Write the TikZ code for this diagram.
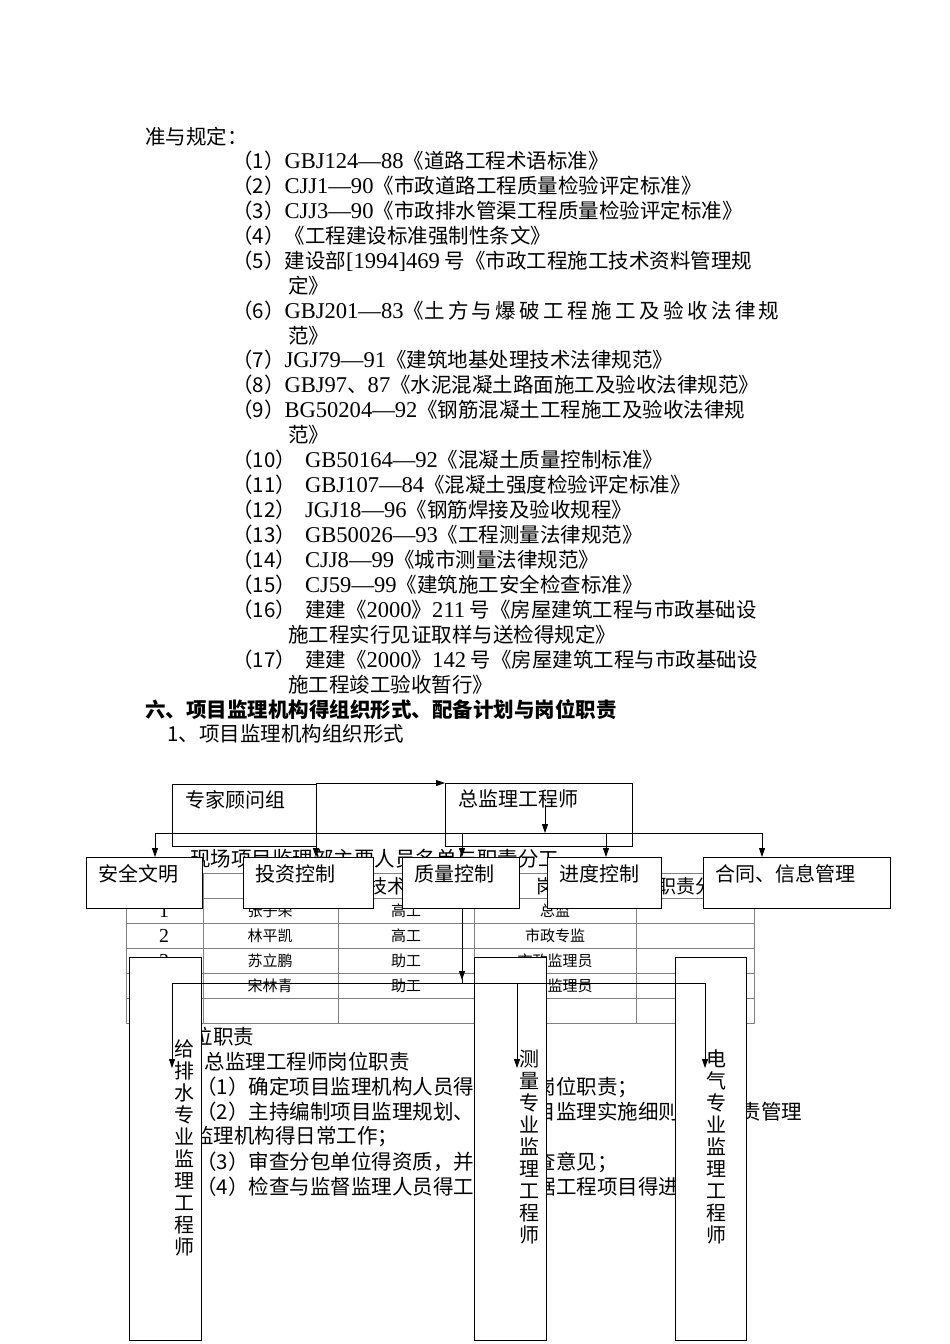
\documentclass[tikz,border=0pt]{standalone}
\usepackage{fontspec}
\setmainfont{Noto Sans CJK SC}
\newfontfamily\lat[Scale=1.1]{Liberation Serif}
\usetikzlibrary{arrows.meta}
\begin{document}
\begin{tikzpicture}[x=1pt,y=-1pt,
  txt/.style={anchor=west,inner sep=0pt,font=\fontsize{20.5}{20.5}\selectfont},
  cell/.style={inner sep=0pt,font=\fontsize{15}{15}\selectfont},
  bx/.style={draw,line width=0.8pt,fill=white},
  lbl/.style={anchor=north west,inner sep=0pt,font=\fontsize{20}{20}\selectfont},
  vt/.style={inner sep=0pt,align=center,font=\fontsize{20}{22}\selectfont,anchor=north},
  conn/.style={line width=0.8pt},
  arr/.style={line width=0.8pt,-{Triangle[length=9pt,width=6pt]}}]
\useasboundingbox (0,0) rectangle (950,1344);
\fill[white] (0,0) rectangle (950,1344);
% top text
\node[txt] (h0) at (145,137) {准与规定：};
\foreach \y/\t [count=\i] in {161/（1）{\lat GBJ124—88}《道路工程术语标准》,
 186/（2）{\lat CJJ1—90}《市政道路工程质量检验评定标准》,
 211/（3）{\lat CJJ3—90}《市政排水管渠工程质量检验评定标准》,
 236/（4）《工程建设标准强制性条文》,
 261/（5）建设部{\lat[1994]469} 号《市政工程施工技术资料管理规,
 311/（6）{\lat GBJ201—83}《土\,方\,与\,爆\,破\,工\,程\,施\,工\,及\,验\,收\,法\,律\,规,
 360/（7）{\lat JGJ79—91}《建筑地基处理技术法律规范》,
 385/（8）{\lat GBJ97}、{\lat 87}《水泥混凝土路面施工及验收法律规范》,
 410/（9）{\lat BG50204—92}《钢筋混凝土工程施工及验收法律规,
 460/（10）\ \ {\lat GB50164—92}《混凝土质量控制标准》,
 485/（11）\ \ {\lat GBJ107—84}《混凝土强度检验评定标准》,
 510/（12）\ \ {\lat JGJ18—96}《钢筋焊接及验收规程》,
 535/（13）\ \ {\lat GB50026—93}《工程测量法律规范》,
 560/（14）\ \ {\lat CJJ8—99}《城市测量法律规范》,
 585/（15）\ \ {\lat CJ59—99}《建筑施工安全检查标准》,
 610/（16）\ \ 建建《{\lat 2000}》{\lat 211} 号《房屋建筑工程与市政基础设,
 660/（17）\ \ 建建《{\lat 2000}》{\lat 142} 号《房屋建筑工程与市政基础设}
  {\node[txt] (it\i) at (232,\y) {\t};}
\foreach \y/\t [count=\i] in {286/定》,336/范》,435/范》,635/施工程实行见证取样与送检得规定》,685/施工程竣工验收暂行》}
  {\node[txt] (ct\i) at (288,\y) {\t};}
\node[txt,font=\bfseries\fontsize{20.5}{20.5}\selectfont] (h6) at (145,710) {六、项目监理机构得组织形式、配备计划与岗位职责};
\node[txt] (h61) at (167,734) {1、项目监理机构组织形式};
% background table
\node[txt] (ttl) at (190,859) {现场项目监理部主要人员名单与职责分工};
\draw[line width=0.5pt,gray] (126,873) rectangle (754,1023);
\foreach \y in {898,923,948,973,998} \draw[line width=0.5pt,gray] (126,\y)--(754,\y);
\foreach \x in {203,338,474,636} \draw[line width=0.5pt,gray] (\x,873)--(\x,1023);
\node[cell,font=\fontsize{19}{19}\selectfont] (c0) at (164,886) {序号};
\node[cell,font=\fontsize{19}{19}\selectfont] (c1) at (270,886) {姓名};
\node[cell,font=\fontsize{19}{19}\selectfont] (c2) at (406,886) {技术职称};
\node[cell,font=\fontsize{19}{19}\selectfont] (c3) at (555,886) {岗位};
\node[cell,font=\fontsize{19}{19}\selectfont] (c4) at (695,886) {职责分工};
\foreach \y/\a/\b/\c/\d in {911/1/张子荣/高工/总监,936/2/林平凯/高工/市政专监,961/3/苏立鹏/助工/市政监理员,986/4/宋林青/助工/测量监理员}
 {\node[cell,font=\lat\fontsize{18}{18}\selectfont] at (164,\y) {\a};
  \node[cell] at (270,\y) {\b}; \node[cell] at (406,\y) {\c}; \node[cell] at (555,\y) {\d};}
\foreach \y/\x/\t [count=\i] in {1037/140/2、岗位职责,1062/152/（1）总监理工程师岗位职责,1087/196/（1）确定项目监理机构人员得分工与岗位职责；,1112/196/（2）主持编制项目监理规划、审批项目监理实施细则，并负责管理,1137/152/项目监理机构得日常工作；,1162/196/（3）审查分包单位得资质，并提出审查意见；,1187/196/（4）检查与监督监理人员得工作，根据工程项目得进展情况，}
  {\node[txt] (bt\i) at (\x,\y) {\t};}
% top boxes
\draw[line width=0.8pt] (172,784) rectangle (316,846);
\node[lbl] (zj) at (185,790) {专家顾问组};
\draw[line width=0.8pt] (445,783) rectangle (632,846);
\node[lbl] (zs) at (458,790) {总监理工程师};
\coordinate (a1) at (316,783); \coordinate (a2) at (445,783);
\draw[arr] (a1)--(a2);
\coordinate (b0) at (545,805); \coordinate (b1) at (545,833);
\draw[arr] (b0)--(b1);
\draw[conn] (155,833)--(762,833);
\foreach \x in {155,316,606,762} \draw[arr] (\x,833)--(\x,857);
\draw[arr] (462,833)--(462,857);
\draw[conn] (462,857)--(462,983);
\draw[arr] (462,960)--(462,980);
% row 2 boxes
\foreach \n/\xa/\xb/\t in {aq/86/202/安全文明,tz/243/373/投资控制,zl/402/519/质量控制,jd/547/661/进度控制,ht/703/890/合同、信息管理}
 {\draw[bx] (\xa,857) rectangle (\xb,908); \node[lbl] (\n) at (\xa+12,864) {\t};}
% tall boxes
\draw[bx] (129,957) rectangle (201,1340);
\draw[bx] (474,957) rectangle (546,1340);
\draw[bx] (675,957) rectangle (746,1340);
\node[vt] (gp) at (184,1040) {给\\排\\水\\专\\业\\监\\理\\工\\程\\师};
\node[vt] (cl) at (529,1050) {测\\量\\专\\业\\监\\理\\工\\程\\师};
\node[vt] (dq) at (716,1050) {电\\气\\专\\业\\监\\理\\工\\程\\师};
% lower connectors
\draw[conn] (172,983)--(705,983);
\foreach \x in {172,517,705} \draw[arr] (\x,983)--(\x,1068);
\end{tikzpicture}
\end{document}
